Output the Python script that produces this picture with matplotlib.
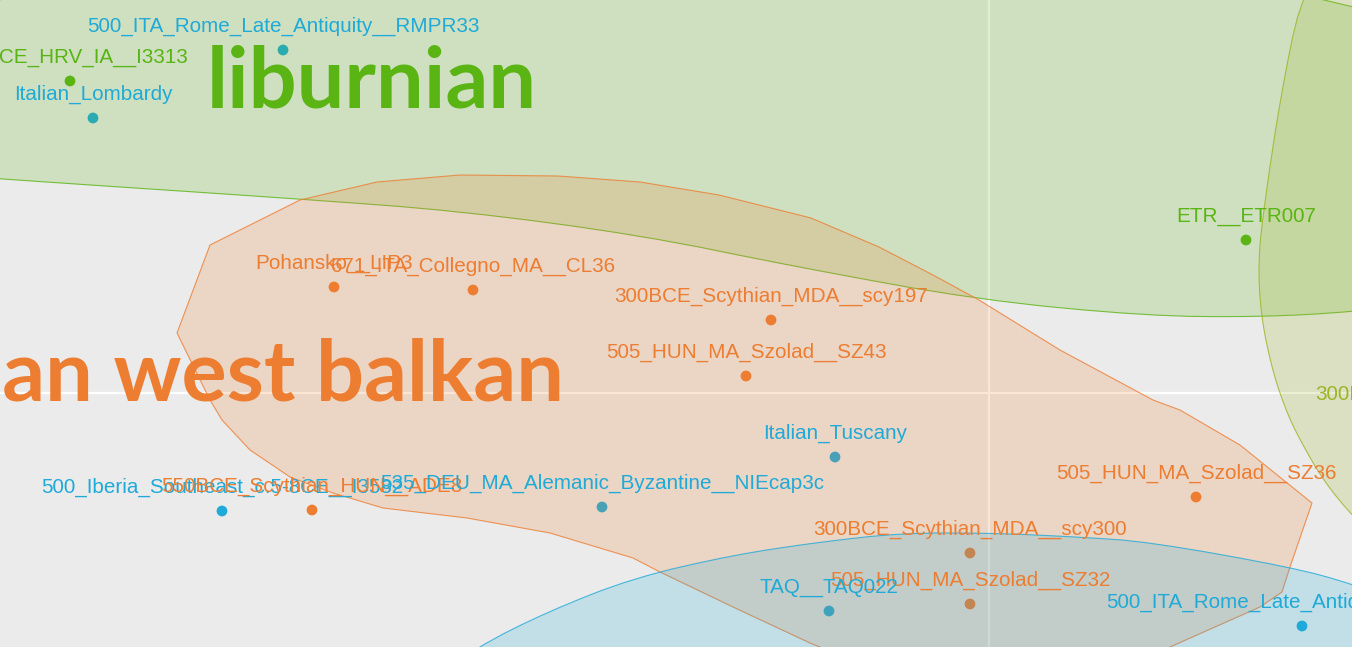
import numpy as np
import matplotlib
matplotlib.use("Agg")
import matplotlib.pyplot as plt
from matplotlib.patches import Polygon

# sample positions (PC1, PC2 in units of 1e-4)
labels = ["500_ITA_Rome_Late_Antiquity__RMPR33", "800BCE_HRV_IA__I3313", "Italian_Lombardy",
          "ETR__ETR007", "Pohansko__LIP3", "671_ITA_Collegno_MA__CL36",
          "300BCE_Scythian_MDA__scy197", "505_HUN_MA_Szolad__SZ43", "Italian_Tuscany",
          "500_Iberia_Southeast_c.5-8CE__I3582", "550BCE_Scythian_HUN__ADE8",
          "535_DEU_MA_Alemanic_Byzantine__NIEcap3c", "505_HUN_MA_Szolad__SZ36",
          "300BCE_Scythian_MDA__scy300", "505_HUN_MA_Szolad__SZ32", "TAQ__TAQ022",
          "500_ITA_Rome_Late_Antiquity__RMPR59", "300BCE_ITA_Etruscan__ETR012"]
pc1 = [-706, -919, -896, 257, -655, -516, -218, -243, -154, -767, -677, -387, 207, -19, -19, -160, 313, 481]
pc2 = [343, 312, 275, 153, 106, 103, 73, 17, -64, -118, -117, -114, -104, -160, -211, -218, -233, -25]
group = ["blue", "green", "blue", "green", "orange", "orange", "orange", "orange", "blue",
         "blue", "orange", "blue", "orange", "orange", "orange", "blue", "blue", "olive"]

colors = {"green": "#5AB414", "orange": "#ED7D31", "blue": "#1FAAD8", "olive": "#9DB424"}

# group outlines (PC1, PC2 in units of 1e-4)
liburnian_x = [-1049, -989, -689, -529, -349, -192, -10, 158, 271, 364, 461, 461, -1049]
liburnian_y = [219, 214, 194, 182, 158, 126, 93, 77, 76, 81, 93, 453, 453]
olive_x = [331, 311, 291, 276, 269, 272, 284, 298, 311, 334, 364, 411, 511, 511]
olive_y = [413, 393, 293, 193, 133, 76, 20, -20, -47, -87, -124, -167, -207, 413]
balkan_x = [-812, -779, -689, -612, -529, -431, -349, -270, -178, -110, -56, -10, 71, 164, 191,
            251, 323, 301, 293, 271, 181, 111, -89, -179, -256, -329, -356, -439, -522, -606,
            -656, -699, -739, -767, -779]
balkan_y = [60, 148, 193, 211, 218, 217, 211, 198, 175, 146, 118, 93, 43, -7, -17,
            -52, -110, -174, -199, -214, -254, -287, -287, -250, -214, -179, -165, -140, -125, -115,
            -100, -84, -57, -27, -7]
italic_x = [-589, -512, -442, -356, -256, -169, -87, 2, 90, 161, 301, 364, 461, 461, -589]
italic_y = [-307, -254, -219, -185, -162, -149, -140, -140, -144, -149, -174, -191, -227, -327, -327]


def chaikin(x, y, n=2):
    pts = np.column_stack([x, y]).astype(float)
    for _ in range(n):
        nxt = np.roll(pts, -1, axis=0)
        q = 0.75 * pts + 0.25 * nxt
        r = 0.25 * pts + 0.75 * nxt
        pts = np.empty((2 * len(q), 2))
        pts[0::2] = q
        pts[1::2] = r
    return pts / 1e4


fig = plt.figure(figsize=(13.64, 6.56), dpi=100, facecolor="white")
ax = fig.add_axes([0, 9 / 656, 1352 / 1364, 647 / 656])
ax.set_facecolor("#EBEBEB")
ax.set_xlim(-989 / 1e4, 363 / 1e4)
ax.set_ylim(-254 / 1e4, 393 / 1e4)
ax.set_xticks([0])
ax.set_yticks([0])
ax.grid(color="white", lw=1.6)
ax.set_axisbelow(True)
ax.tick_params(length=0, labelbottom=False, labelleft=False)
for s in ax.spines.values():
    s.set_visible(False)

x = np.array(pc1) / 1e4
y = np.array(pc2) / 1e4
ax.scatter(x, y, s=60, c=[colors[g] for g in group], linewidths=0, zorder=2)

shapes = [(chaikin(liburnian_x, liburnian_y), "green"),
          (chaikin(olive_x, olive_y), "olive"),
          (chaikin(balkan_x, balkan_y, 0), "orange"),
          (chaikin(italic_x, italic_y), "blue")]
for pts, g in shapes:
    ax.add_patch(Polygon(pts, closed=True, facecolor=colors[g], alpha=0.2, edgecolor="none", zorder=3))
    ax.add_patch(Polygon(pts, closed=True, fill=False, edgecolor=colors[g], alpha=0.8, lw=0.8, zorder=3))

for lab, xi, yi, g in zip(labels, x, y, group):
    ax.annotate(lab, (xi, yi), xytext=(0, 12.8), textcoords="offset points", ha="center",
                va="baseline", fontsize=14.9, family="Liberation Sans", color=colors[g],
                annotation_clip=False, clip_on=True, zorder=4)

ax.text(-617 / 1e4, 286 / 1e4, "liburnian", ha="center", va="baseline", fontsize=61,
        family="Lato", fontweight="bold", color=colors["green"], clip_on=True, zorder=4)
ax.text(-425 / 1e4, -7 / 1e4, "Pannonian west balkan", ha="right", va="baseline", fontsize=61,
        family="Lato", fontweight="bold", color=colors["orange"], clip_on=True, zorder=4)

fig.savefig("out.png", dpi=100, facecolor=fig.get_facecolor())
